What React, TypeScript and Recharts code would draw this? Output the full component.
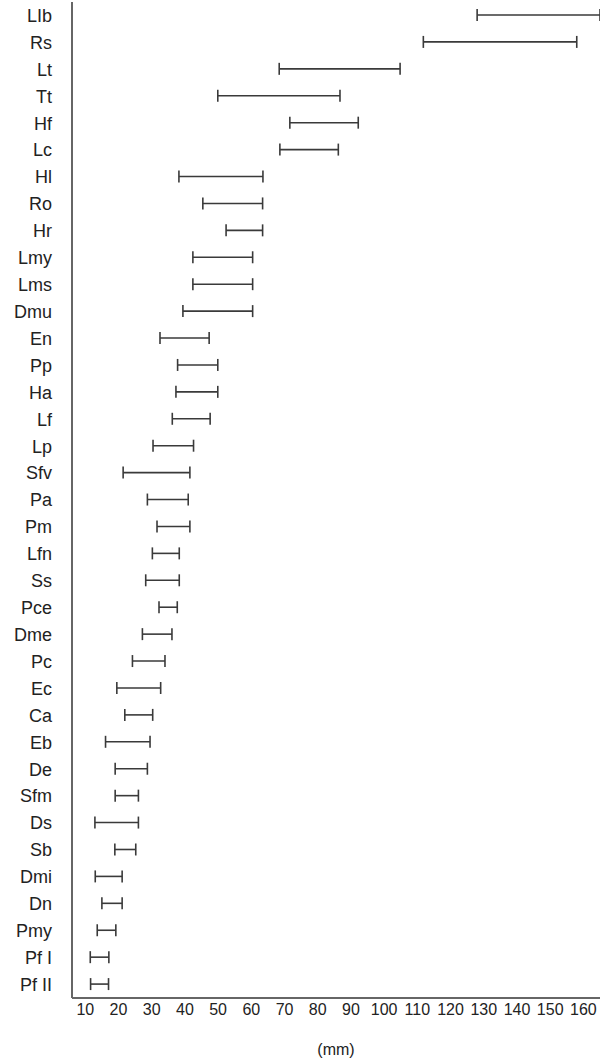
import { BarChart, Bar, XAxis, YAxis } from 'recharts';

const taxa = [
  'LIb', 'Rs', 'Lt', 'Tt', 'Hf', 'Lc', 'Hl', 'Ro', 'Hr', 'Lmy', 'Lms', 'Dmu', 'En', 'Pp', 'Ha', 'Lf', 'Lp',
  'Sfv', 'Pa', 'Pm', 'Lfn', 'Ss', 'Pce', 'Dme', 'Pc', 'Ec', 'Ca', 'Eb', 'De', 'Sfm', 'Ds', 'Sb', 'Dmi',
  'Dn', 'Pmy', 'Pf I', 'Pf II',
];

// min / max length per taxon (mm)
const minLength = [
  128.0, 111.8, 68.4, 49.9, 71.6, 68.6, 38.2, 45.4, 52.4, 42.4, 42.4, 39.4, 32.5, 37.8, 37.3, 36.2, 30.4,
  21.4, 28.7, 31.6, 30.2, 28.2, 32.2, 27.2, 24.2, 19.5, 21.9, 16.1, 19.0, 19.0, 12.9, 18.9, 13.0,
  15.0, 13.6, 11.5, 11.6,
];
const maxLength = [
  165.0, 158.0, 104.8, 86.7, 92.2, 86.2, 63.5, 63.4, 63.4, 60.4, 60.4, 60.4, 47.3, 49.9, 49.9, 47.6, 42.6,
  41.5, 41.0, 41.5, 38.3, 38.3, 37.7, 36.1, 34.0, 32.7, 30.3, 29.5, 28.7, 26.0, 26.0, 25.2, 21.1,
  21.1, 19.2, 17.1, 17.0,
];

const xTicks = [10, 20, 30, 40, 50, 60, 70, 80, 90, 100, 110, 120, 130, 140, 150, 160];

const data = taxa.map((name, i) => ({ name, range: [minLength[i], maxLength[i]] }));

const FONT = '"Liberation Sans", Arial, sans-serif';

// horizontal line with end caps spanning the bar's rect
function RangeShape({ x, y, width, height }: any) {
  const cy = y + height / 2;
  const x2 = x + width;
  return (
    <g stroke="#3a3a3a" strokeWidth={1.6} fill="none">
      <line x1={x} x2={x2} y1={cy} y2={cy} />
      <line x1={x} x2={x} y1={y} y2={y + height} />
      <line x1={x2} x2={x2} y1={y} y2={y + height} />
    </g>
  );
}

export default function App() {
  return (
    <div style={{ position: 'fixed', left: 0, top: 0, width: 601, height: 1059, background: '#fff', fontFamily: FONT }}>
      <BarChart
        width={601}
        height={1059}
        data={data}
        layout="vertical"
        margin={{ top: 2, right: 1, bottom: 0, left: 0 }}
      >
        <XAxis
          type="number"
          domain={[6, 165]}
          ticks={xTicks}
          interval={0}
          allowDataOverflow
          axisLine={{ stroke: '#333', strokeWidth: 1.5 }}
          tickLine={false}
          tickMargin={0}
          height={61}
          tick={{ fill: '#222', fontSize: 16, fontFamily: FONT }}
          label={{ value: '(mm)', position: 'insideBottom', offset: 4, fill: '#222', fontSize: 16, fontFamily: FONT }}
        />
        <YAxis
          type="category"
          dataKey="name"
          width={72}
          interval={0}
          axisLine={{ stroke: '#666', strokeWidth: 2 }}
          tickLine={false}
          tick={{ fill: '#222', fontSize: 18, fontFamily: FONT, dx: -12 }}
        />
        <Bar dataKey="range" barSize={12} shape={<RangeShape />} isAnimationActive={false} />
      </BarChart>
    </div>
  );
}
